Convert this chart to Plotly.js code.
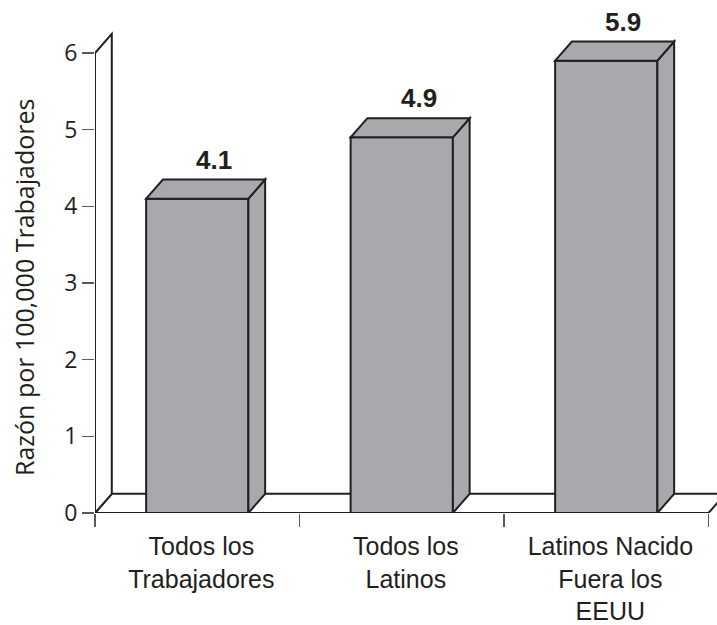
<!DOCTYPE html>
<html>
<head>
<meta charset="utf-8">
<script src="https://cdn.plot.ly/plotly-3.0.1.min.js"></script>
<style>
  html, body { margin: 0; padding: 0; background: #ffffff; }
  #chart { width: 717px; height: 625px; }
</style>
</head>
<body>
<div id="chart"></div>
<script>
// Fatal work injury rate, per 100,000 workers
const categories = ['Todos los<br>Trabajadores', 'Todos los<br>Latinos', 'Latinos Nacido<br>Fuera los<br>EEUU'];
const values = [4.1, 4.9, 5.9];
const valueLabels = ['4.1', '4.9', '5.9'];
const yTicks = [0, 1, 2, 3, 4, 5, 6];
const yTitle = 'Razón por 100,000 Trabajadores';

// Pseudo-3D look: depth offset of the extruded faces, in axis units
const DX = 0.082;
const DY = 0.25;
const BAR_W = 0.5;
const LABEL_NUDGE = 0.02;

const INK = '#231f20';
const BAR_FILL = '#a7a9ac';
const EDGE = 2;

const xIdx = categories.map((_, i) => i);
const xLo = -0.5;
const xHi = categories.length - 0.5;
const yTop = yTicks[yTicks.length - 1];
const boundaries = categories.map((_, i) => i - 0.5).concat([xHi]);

function poly(pts) {
  return 'M ' + pts.map(p => p[0] + ',' + p[1]).join(' L ') + ' Z';
}

const shapes = [];
// floor
shapes.push({
  type: 'path', xref: 'x', yref: 'y', layer: 'below',
  path: poly([[xLo, 0], [xHi, 0], [xHi + DX, DY], [xLo + DX, DY]]),
  fillcolor: '#ffffff', line: { color: INK, width: EDGE }
});
// left wall
shapes.push({
  type: 'path', xref: 'x', yref: 'y', layer: 'below',
  path: poly([[xLo, 0], [xLo, yTop], [xLo + DX, yTop + DY], [xLo + DX, DY]]),
  fillcolor: '#ffffff', line: { color: INK, width: EDGE }
});
// side and top faces of each bar
values.forEach((v, i) => {
  const l = xIdx[i] - BAR_W / 2;
  const r = xIdx[i] + BAR_W / 2;
  shapes.push({
    type: 'path', xref: 'x', yref: 'y', layer: 'above',
    path: poly([[r, 0], [r + DX, DY], [r + DX, v + DY], [r, v]]),
    fillcolor: BAR_FILL, line: { color: INK, width: EDGE }
  });
  shapes.push({
    type: 'path', xref: 'x', yref: 'y', layer: 'above',
    path: poly([[l, v], [r, v], [r + DX, v + DY], [l + DX, v + DY]]),
    fillcolor: BAR_FILL, line: { color: INK, width: EDGE }
  });
});

const annotations = values.map((v, i) => ({
  x: xIdx[i] + DX, y: v + DY, xref: 'x', yref: 'y',
  text: '<b>' + valueLabels[i] + '</b>',
  showarrow: false, yanchor: 'bottom', xanchor: 'center', yshift: 3,
  font: { family: 'Liberation Sans, Arial, sans-serif', size: 26, color: INK }
}));

// vertical axis title
annotations.push({
  x: 0, xref: 'paper', xanchor: 'right', xshift: -52,
  y: yTop / 2, yref: 'y', yanchor: 'middle', yshift: -5,
  text: yTitle, textangle: -90, showarrow: false,
  font: { family: 'Open Sans, sans-serif', size: 25, color: INK }
});

const trace = {
  type: 'bar',
  x: xIdx,
  y: values,
  width: BAR_W,
  marker: { color: BAR_FILL, line: { color: INK, width: EDGE } },
  hoverinfo: 'skip',
  showlegend: false
};

// plot width spans three categories over 613.5 px; extend range to the right edge
const PX_PER_CAT = 204.5;
const plotW = 717 - 95;
const xRange = [xLo, xLo + plotW / PX_PER_CAT];
const yRange = [0, 6.3];

const layout = {
  width: 717, height: 625,
  margin: { l: 95, r: 0, t: 29.7, b: 111.5 },
  paper_bgcolor: '#ffffff', plot_bgcolor: '#ffffff',
  showlegend: false,
  xaxis: {
    type: 'linear', range: xRange, fixedrange: true,
    tickvals: xIdx.map(i => i + LABEL_NUDGE), ticktext: categories, ticks: '',
    showgrid: false, zeroline: false, showline: false,
    tickfont: { family: 'Liberation Sans, Arial, sans-serif', size: 25, color: INK },
    ticklabelstandoff: 16
  },
  xaxis2: {
    type: 'linear', range: xRange, overlaying: 'x', anchor: 'y', side: 'bottom',
    tickvals: boundaries, showticklabels: false,
    ticks: 'outside', ticklen: 13, tickwidth: 1.3, tickcolor: '#58595b',
    showgrid: false, zeroline: false, showline: false
  },
  yaxis: {
    range: yRange, fixedrange: true,
    tickvals: yTicks, ticks: 'outside', ticklen: 12, tickwidth: 1.3, tickcolor: '#58595b',
    showgrid: false, zeroline: false, showline: false,
    tickfont: { family: 'Open Sans, sans-serif', size: 23, color: INK }
  },
  shapes: shapes,
  annotations: annotations
};

Plotly.newPlot('chart', [trace, { type: 'scatter', x: [], y: [], xaxis: 'x2', yaxis: 'y', showlegend: false }], layout, { staticPlot: true, displayModeBar: false });
</script>
</body>
</html>
